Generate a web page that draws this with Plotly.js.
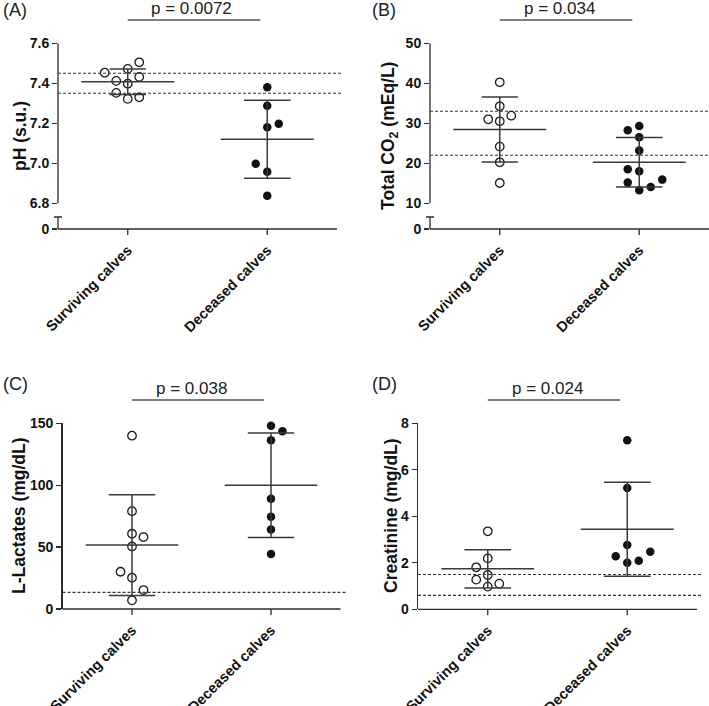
<!DOCTYPE html>
<html><head><meta charset="utf-8">
<script src="https://cdn.plot.ly/plotly-3.0.1.min.js"></script>
<style>html,body{margin:0;padding:0;background:#fff}#chart{width:709px;height:706px}</style>
</head><body><div id="chart"></div>
<script>
// ---------------- DATA ----------------
const categories = ['Surviving calves', 'Deceased calves'];

// (A) pH
const phSurviving = [7.453, 7.472, 7.505, 7.412, 7.398, 7.432, 7.352, 7.322, 7.330];
const phDeceased  = [7.380, 7.288, 7.198, 7.180, 6.998, 6.958, 6.838];
const phMean = [7.408, 7.120];
const phSD   = [0.064, 0.195];
const phRef  = [7.35, 7.45];
const phP    = 'p = 0.0072';

// (B) Total CO2
const co2Surviving = [40.25, 34.25, 31.0, 31.9, 30.5, 24.17, 20.25, 15.08];
const co2Deceased  = [28.25, 29.33, 26.5, 23.17, 18.5, 18.0, 15.17, 15.92, 13.25, 14.08];
const co2Mean = [28.45, 20.25];
const co2SD   = [8.12, 6.17];
const co2Ref  = [22, 33];
const co2P    = 'p = 0.034';

// (C) L-Lactates
const lacSurviving = [140.0, 79.0, 60.8, 58.1, 50.5, 30.1, 25.3, 15.3, 7.0];
const lacDeceased  = [148.1, 143.5, 136.3, 89.0, 74.5, 64.3, 44.4];
const lacMean = [51.6, 100.0];
const lacSD   = [40.6, 42.2];
const lacRef  = [13.4];
const lacP    = 'p = 0.038';

// (D) Creatinine
const creSurviving = [3.355, 2.19, 1.806, 1.477, 1.276, 1.104, 0.975];
const creDeceased  = [7.27, 5.22, 2.77, 2.28, 2.48, 2.007, 2.09];
const creMean = [1.742, 3.44];
const creSD   = [0.824, 2.02];
const creRef  = [0.6, 1.5];
const creP    = 'p = 0.024';

// scatter-dot column slots (horizontal jitter, in point widths)
const phSurvSlots  = [-2, 0, 1, -1, 0, 1, -1, 0, 1];
const phDecSlots   = [0, 0, 1, 0, -1, 0, 0];
const co2SurvSlots = [0, 0, -1, 1, 0, 0, 0, 0];
const co2DecSlots  = [-1, 0, 0, 0, -1, 0, -1, 2, 0, 1];
const lacSurvSlots = [0, 0, 0, 1, 0, -1, 0, 1, 0];
const lacDecSlots  = [0, 1, 0, 0, 0, 0, 0];
const creSurvSlots = [0, 0, -1, 0, -1, 1, 0];
const creDecSlots  = [0, 0, 0, -1, 2, 0, 1];

// ---------------- STYLE / LAYOUT ----------------
const W = 709, H = 706;
const FONT = 'Liberation Sans, Arial, Helvetica, sans-serif';
const INK = '#2b2b2b';
const SLOT = 0.0825;
const px = p => p / W;
const py = p => 1 - p / H;

const panels = [
  {label:'(A)', title:'pH (s.u.)', surv:phSurviving, dec:phDeceased, ss:phSurvSlots, ds:phDecSlots,
   mean:phMean, sd:phSD, ref:phRef, p:phP, range:[6.8,7.6], dtick:0.2, fmt:'.1f', brk:true,
   xl:58, xr:337, yt:43.3, yb:203.3, ax:229, brkTop:217, lab:[1,10], titleX:20, titleY:136, pTextX:0.46, pY:20, pTextY:9,
   caps:[0.13,0.167]},
  {label:'(B)', title:'Total CO<sub>2</sub> (mEq/L)', surv:co2Surviving, dec:co2Deceased, ss:co2SurvSlots, ds:co2DecSlots,
   mean:co2Mean, sd:co2SD, ref:co2Ref, p:co2P, range:[10,50], dtick:10, fmt:'d', brk:true,
   xl:430, xr:709, yt:43.3, yb:203.3, ax:229, brkTop:217, lab:[370,10], titleX:390, titleY:136, pTextX:0.43, pY:20, pTextY:9,
   caps:[0.13,0.167]},
  {label:'(C)', title:'L-Lactates (mg/dL)', surv:lacSurviving, dec:lacDeceased, ss:lacSurvSlots, ds:lacDecSlots,
   mean:lacMean, sd:lacSD, ref:lacRef, p:lacP, range:[0,150], dtick:50, fmt:'d', brk:false,
   xl:62.5, xr:340.5, yt:423.3, yb:609, ax:609, lab:[1,384], titleX:19, titleY:516, pTextX:0.43, pY:400, pTextY:388,
   caps:[0.167,0.167]},
  {label:'(D)', title:'Creatinine (mg/dL)', surv:creSurviving, dec:creDeceased, ss:creSurvSlots, ds:creDecSlots,
   mean:creMean, sd:creSD, ref:creRef, p:creP, range:[0,8], dtick:2, fmt:'d', brk:false,
   xl:418, xr:697, yt:423.3, yb:609.3, ax:609.3, lab:[370,384], titleX:391, titleY:516, pTextX:0.43, pY:400, pTextY:388,
   caps:[0.167,0.167]}
];

const traces = [];
const layout = {
  width: W, height: H, margin:{l:0,r:0,t:0,b:0}, showlegend:false,
  paper_bgcolor:'#fff', plot_bgcolor:'rgba(0,0,0,0)',
  font:{family:FONT, color:'#111'}, shapes:[], annotations:[]
};

const axCommon = {showline:true, linecolor:INK, linewidth:1.3, ticks:'outside', ticklen:5,
  tickwidth:1.3, tickcolor:INK, showgrid:false, zeroline:false, fixedrange:true,
  tickfont:{family:FONT, size:14, weight:700, color:'#111'}};

panels.forEach((P, i) => {
  const n = i + 1;
  const xId = n === 1 ? 'x' : 'x' + n, yId = n === 1 ? 'y' : 'y' + n;
  const xKey = n === 1 ? 'xaxis' : 'xaxis' + n, yKey = n === 1 ? 'yaxis' : 'yaxis' + n;

  // category axis: labels from Plotly; baseline and tick marks drawn as (unclipped) paper shapes
  layout[xKey] = Object.assign({}, axCommon, {
    domain:[px(P.xl), px(P.xr)], range:[-0.5, 1.5], anchor:yId,
    showline:false, tickcolor:'rgba(0,0,0,0)',
    tickvals:[0,1], ticktext:categories, tickangle:-45, ticklen:6,
    tickfont:{family:FONT, size:14.5, weight:700, color:'#111'}
  });
  layout.shapes.push({type:'line', xref:'paper', yref:'paper', x0:px(P.xl), x1:px(P.xr), y0:py(P.ax), y1:py(P.ax),
    line:{color:INK, width:1.3}});
  [0, 1].forEach(c => layout.shapes.push({type:'line', xref:xId, yref:'paper',
    x0:c, x1:c, y0:py(P.ax), y1:py(P.ax + 6), line:{color:INK, width:1.3}}));

  const ya = Object.assign({}, axCommon, {anchor:xId});
  if (P.brk) {
    // broken axis: the segment below the data range carries the "0" label
    const perPx = (P.range[1] - P.range[0]) / (P.yb - P.yt);
    const zeroPos = P.range[0] - (P.ax - P.yb) * perPx;      // value at the x-axis line
    const capPos  = P.range[0] - (P.brkTop - P.yb) * perPx;  // top of the lower stub
    const vals = [], txt = [];
    for (let v = P.range[0]; v <= P.range[1] + 1e-9; v += P.dtick) {
      vals.push(v); txt.push(P.fmt === '.1f' ? v.toFixed(1) : String(Math.round(v)));
    }
    ya.domain = [py(P.ax), py(P.yt)];
    ya.range = [zeroPos, P.range[1]];
    ya.tickvals = [zeroPos].concat(vals);
    ya.ticktext = ['0'].concat(txt);
    ya.showline = false;
    const seg = (a, b) => layout.shapes.push({type:'line', xref:'paper', yref:yId, x0:px(P.xl), x1:px(P.xl), y0:a, y1:b,
      line:{color:INK, width:1.3}});
    seg(P.range[0], P.range[1]);
    seg(zeroPos, capPos);
    layout.shapes.push({type:'line', xref:'paper', yref:yId, xsizemode:'pixel', xanchor:px(P.xl),
      x0:-4, x1:4, y0:capPos, y1:capPos, line:{color:INK, width:1.3}});
  } else {
    ya.domain = [py(P.yb), py(P.yt)];
    ya.range = P.range; ya.dtick = P.dtick; ya.tick0 = P.range[0]; ya.tickformat = P.fmt;
  }
  layout[yKey] = ya;

  // reference dashed lines
  P.ref.forEach(r => layout.shapes.push({type:'line', xref:xId + ' domain', yref:yId, x0:0, x1:1.02, y0:r, y1:r,
    line:{color:'#333', width:1.1, dash:'3px,2px'}}));

  // p-value bracket
  layout.shapes.push({type:'line', xref:xId, yref:'paper', x0:0, x1:0.95, y0:py(P.pY), y1:py(P.pY),
    line:{color:'#555', width:1.6}});
  layout.annotations.push({xref:xId, yref:'paper', x:P.pTextX, y:py(P.pTextY), text:P.p, showarrow:false,
    xanchor:'center', yanchor:'middle', font:{family:FONT, size:17, color:'#222'}});
  // panel label
  layout.annotations.push({xref:'paper', yref:'paper', x:px(P.lab[0]), y:py(P.lab[1]), text:P.label, showarrow:false,
    xanchor:'left', yanchor:'middle', font:{family:FONT, size:18, color:'#222'}});
  // y title
  layout.annotations.push({xref:'paper', yref:'paper', x:px(P.titleX), y:py(P.titleY), text:P.title, showarrow:false,
    textangle:-90, xanchor:'center', yanchor:'middle', font:{family:FONT, size:17.5, weight:700, color:'#111'}});

  // points
  traces.push({type:'scatter', mode:'markers', xaxis:xId, yaxis:yId, cliponaxis:false,
    x:P.ss.map(s => 0 + s * SLOT), y:P.surv, hoverinfo:'skip',
    marker:{symbol:'circle-open', size:8.5, color:'#1a1a1a', line:{width:1.3}}});
  traces.push({type:'scatter', mode:'markers', xaxis:xId, yaxis:yId, cliponaxis:false,
    x:P.ds.map(s => 1 + s * SLOT), y:P.dec, hoverinfo:'skip',
    marker:{symbol:'circle', size:8.5, color:'#111'}});

  // mean ± SD
  const lx = [], ly = [];
  [0,1].forEach(g => {
    const m = P.mean[g], s = P.sd[g], w = P.caps[g];
    lx.push(g-0.333, g+0.333, null, g, g, null, g-w, g+w, null, g-w, g+w, null);
    ly.push(m, m, null, m-s, m+s, null, m+s, m+s, null, m-s, m-s, null);
  });
  traces.push({type:'scatter', mode:'lines', xaxis:xId, yaxis:yId, cliponaxis:false, x:lx, y:ly,
    hoverinfo:'skip', line:{color:'#3a3a3a', width:1.5}});
});

Plotly.newPlot('chart', traces, layout, {staticPlot:true, displayModeBar:false});
</script>
</body></html>
